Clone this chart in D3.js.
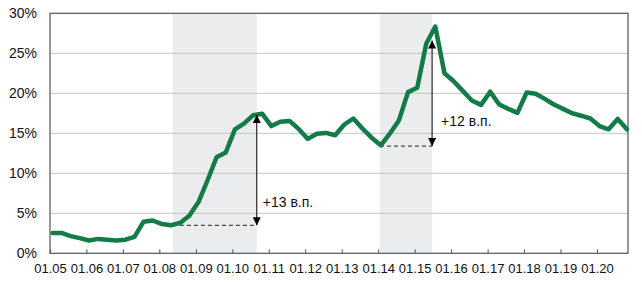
<!DOCTYPE html>
<html>
<head>
<meta charset="utf-8">
<script src="https://cdn.jsdelivr.net/npm/d3@7"></script>
<style>
  body { margin: 0; background: #fff; }
  text { font-family: "Liberation Sans", Arial, sans-serif; fill: #111; }
</style>
</head>
<body>
<script>
// quarterly values, %, 2005 Q1 .. 2020 Q4
const values = [
  2.55, 2.55, 2.15, 1.9, 1.6, 1.8, 1.7, 1.6,
  1.7, 2.05, 3.95, 4.1, 3.65, 3.5, 3.8, 4.7,
  6.4, 9.1, 12.0, 12.6, 15.5, 16.2, 17.25, 17.45,
  15.9, 16.45, 16.55, 15.55, 14.3, 14.95, 15.05, 14.75,
  16.1, 16.85, 15.6, 14.45, 13.5, 14.95, 16.6, 20.15,
  20.7, 26.2, 28.35, 22.5, 21.5, 20.3, 19.1, 18.55,
  20.2, 18.6, 18.05, 17.55, 20.1, 19.95, 19.3, 18.6,
  18.05, 17.5, 17.2, 16.85, 15.9, 15.5, 16.8, 15.5
];
const quarters = values.map((v, i) => new Date(2005, 3 * i, 27));

const yTicks = [0, 5, 10, 15, 20, 25, 30];
const xTickYears = d3.range(2005, 2021);

// crisis periods (shaded)
const shadeStart = ['2008-05-16', '2014-01-19'];
const shadeEnd = ['2010-09-03', '2015-06-25'];

// arrows: from base level to peak
const arrowFrom = [3.5, 13.4];
const arrowTo = [17.3, 26.6];
const arrowLabels = ['+13 в.п.', '+12 в.п.'];
const labelLevel = [5.8, 15.9];

const width = 642, height = 302;
const plotLeft = 50, plotRight = 628, plotTop = 13.3, plotBottom = 253.3;
const parse = d3.timeParse('%Y-%m-%d');

const svg = d3.select('body').append('svg')
              .attr('width', width)
              .attr('height', height);

const x = d3.scaleTime()
            .domain([new Date(2005, 0, 1), new Date(2020, 10, 7)])
            .range([plotLeft, plotRight]);
const y = d3.scaleLinear().domain([0, 30]).range([plotBottom, plotTop]);

svg.append('defs').append('marker')
   .attr('id', 'arrow')
   .attr('viewBox', '0 0 10 10')
   .attr('refX', 10).attr('refY', 5)
   .attr('markerWidth', 8).attr('markerHeight', 8)
   .attr('markerUnits', 'userSpaceOnUse')
   .attr('orient', 'auto-start-reverse')
   .append('path')
   .attr('d', 'M0,0 L10,5 L0,10 Z')
   .attr('fill', '#000');

// shaded periods
svg.selectAll('rect.shade')
   .data(shadeStart)
   .enter()
   .append('rect')
   .attr('class', 'shade')
   .attr('x', d => x(parse(d)))
   .attr('y', plotTop)
   .attr('width', (d, i) => x(parse(shadeEnd[i])) - x(parse(d)))
   .attr('height', plotBottom - plotTop)
   .attr('fill', '#ebecee');

// gridlines
svg.selectAll('line.grid')
   .data(yTicks.filter(d => d > 0 && d < 30))
   .enter()
   .append('line')
   .attr('class', 'grid')
   .attr('x1', plotLeft).attr('x2', plotRight)
   .attr('y1', d => y(d)).attr('y2', d => y(d))
   .attr('stroke', '#c4c4c4')
   .attr('stroke-width', 1);

// y labels
svg.selectAll('text.ylab')
   .data(yTicks)
   .enter()
   .append('text')
   .attr('class', 'ylab')
   .attr('x', 37)
   .attr('y', d => y(d))
   .attr('dy', '0.36em')
   .attr('text-anchor', 'end')
   .style('font-size', '14px')
   .text(d => d + '%');

// x ticks and labels
const xAxis = d3.axisBottom(x)
                .tickValues(xTickYears.map(yr => new Date(yr, 0, 1)))
                .tickFormat(d3.timeFormat('01.%y'))
                .tickSizeInner(-4)
                .tickSizeOuter(0)
                .tickPadding(10);
const gx = svg.append('g')
              .attr('transform', `translate(0,${plotBottom})`)
              .call(xAxis);
gx.select('.domain').remove();
gx.selectAll('line').attr('stroke', '#555');
gx.selectAll('text')
  .style('font-family', '"Liberation Sans", Arial, sans-serif')
  .style('font-size', '13px')
  .style('fill', '#111');

// frame
svg.append('rect')
   .attr('x', plotLeft).attr('y', plotTop)
   .attr('width', plotRight - plotLeft).attr('height', plotBottom - plotTop)
   .attr('fill', 'none')
   .attr('stroke', '#555')
   .attr('stroke-width', 1.2);

// dashed base levels
svg.selectAll('line.base')
   .data(arrowFrom)
   .enter()
   .append('line')
   .attr('class', 'base')
   .attr('x1', (d, i) => x(parse(shadeStart[i])))
   .attr('x2', (d, i) => x(parse(shadeEnd[i])))
   .attr('y1', d => y(d)).attr('y2', d => y(d))
   .attr('stroke', '#222')
   .attr('stroke-width', 1)
   .attr('stroke-dasharray', '4,3');

// series line
const line = d3.line()
               .x((d, i) => x(quarters[i]))
               .y(d => y(d));
svg.append('path')
   .datum(values)
   .attr('d', line)
   .attr('fill', 'none')
   .attr('stroke', '#137b47')
   .attr('stroke-width', 4.5)
   .attr('stroke-linejoin', 'round')
   .attr('stroke-linecap', 'round');

// arrows
svg.selectAll('line.arrow')
   .data(arrowFrom)
   .enter()
   .append('line')
   .attr('class', 'arrow')
   .attr('x1', (d, i) => x(parse(shadeEnd[i])))
   .attr('x2', (d, i) => x(parse(shadeEnd[i])))
   .attr('y1', d => y(d))
   .attr('y2', (d, i) => y(arrowTo[i]))
   .attr('stroke', '#000')
   .attr('stroke-width', 1)
   .attr('marker-start', 'url(#arrow)')
   .attr('marker-end', 'url(#arrow)');

svg.selectAll('text.note')
   .data(arrowLabels)
   .enter()
   .append('text')
   .attr('class', 'note')
   .attr('x', (d, i) => x(parse(shadeEnd[i])) + 6 + i * 3)
   .attr('y', (d, i) => y(labelLevel[i]))
   .style('font-size', '14px')
   .text(d => d);
</script>
</body>
</html>
